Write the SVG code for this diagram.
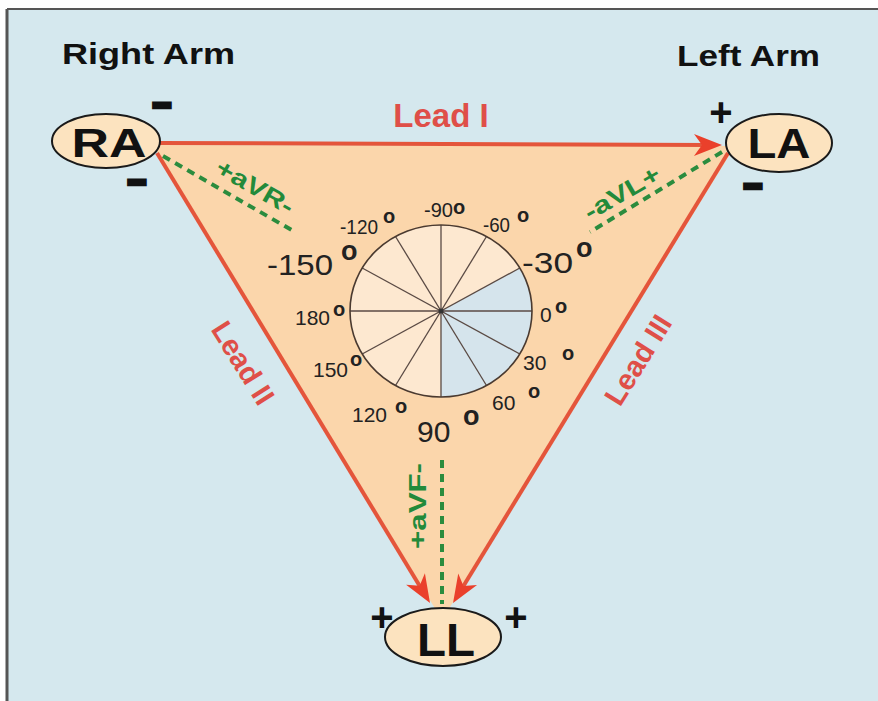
<svg xmlns="http://www.w3.org/2000/svg" width="878" height="701" viewBox="0 0 878 701">
<style>
.title{font-family:"Liberation Sans",Arial,sans-serif;font-weight:bold;font-size:30px;fill:#111}
.node{fill:#fce3bf;stroke:#1a1a1a;stroke-width:2}
.nlab{font-family:"Liberation Sans",Arial,sans-serif;font-weight:bold;fill:#111;text-anchor:middle}
.sign{font-family:"Liberation Sans",Arial,sans-serif;font-weight:bold;fill:#111;text-anchor:middle}
.minus{font-size:28px;stroke:#111;stroke-width:4.5}
.plus{font-size:40px}
.lead{stroke:#e4553b;stroke-width:4;fill:none}
.avx{stroke:#2b8c3e;stroke-width:4;fill:none;stroke-dasharray:8 6}
.llab{font-family:"Liberation Sans",Arial,sans-serif;font-weight:bold;fill:#df4f48;text-anchor:middle}
.glab{font-family:"Liberation Sans",Arial,sans-serif;font-weight:bold;fill:#238a3a;font-size:24px;text-anchor:middle}
.sm{font-family:"Liberation Sans",Arial,sans-serif;font-size:21px;fill:#222}
.bg{font-family:"Liberation Sans",Arial,sans-serif;font-size:30px;fill:#222}
.d1{font-family:"Liberation Sans",Arial,sans-serif;font-weight:bold;font-size:20px;fill:#222}
.d2{font-family:"Liberation Sans",Arial,sans-serif;font-weight:bold;font-size:27px;fill:#222}
.spoke{stroke:#5a4a44;stroke-width:1.3}
</style>
<defs>
<marker id="arr" markerUnits="userSpaceOnUse" viewBox="-30 -13 32 26" refX="-12" refY="0" markerWidth="32" markerHeight="26" orient="auto">
<path d="M0,0 L-28,-11 L-20,0 L-28,11 Z" fill="#ea402b"/>
</marker>
</defs>
<rect x="0" y="0" width="878" height="701" fill="#ffffff"/>
<rect x="7" y="9" width="871" height="692" fill="#d5e8ee"/>
<line x1="7" y1="9" x2="878" y2="9" stroke="#555" stroke-width="2"/>
<line x1="7" y1="9" x2="7" y2="701" stroke="#555" stroke-width="3"/>

<polygon points="153,145 735,146 442,620" fill="#fbd6ab"/>

<g id="axis-wheel">
<ellipse cx="441" cy="311" rx="91" ry="86" fill="#fde8d0"/>
<path d="M441,311 L519.8,268 A91,86 0 0,1 441,397 Z" fill="#d5e4ec"/>
<line class="spoke" x1="350" y1="311" x2="532" y2="311"/>
<line class="spoke" x1="519.8" y1="354" x2="362.2" y2="268"/>
<line class="spoke" x1="486.5" y1="385.5" x2="395.5" y2="236.5"/>
<line class="spoke" x1="441" y1="225" x2="441" y2="397"/>
<line class="spoke" x1="395.5" y1="385.5" x2="486.5" y2="236.5"/>
<line class="spoke" x1="362.2" y1="354" x2="519.8" y2="268"/>
<ellipse cx="441" cy="311" rx="91" ry="86" fill="none" stroke="#4a3a30" stroke-width="1.6"/>
<circle cx="441" cy="311" r="2.5" fill="#333"/>
<text class="sm" x="340" y="234" textLength="38" lengthAdjust="spacingAndGlyphs">-120</text><text class="d1" x="383" y="223">o</text>
<text class="sm" x="424" y="217" textLength="29" lengthAdjust="spacingAndGlyphs">-90</text><text class="d1" x="453" y="214">o</text>
<text class="sm" x="483" y="232" textLength="27" lengthAdjust="spacingAndGlyphs">-60</text><text class="d1" x="517" y="222">o</text>
<text class="bg" x="267" y="275" textLength="66" lengthAdjust="spacingAndGlyphs">-150</text><text class="d2" x="341" y="260">o</text>
<text class="bg" x="522" y="273" textLength="51" lengthAdjust="spacingAndGlyphs">-30</text><text class="d2" x="576" y="257">o</text>
<text class="sm" x="295" y="325">180</text><text class="d1" x="333" y="316">o</text>
<text class="sm" x="540" y="322">0</text><text class="d1" x="555" y="313">o</text>
<text class="sm" x="313" y="377">150</text><text class="d1" x="350" y="366">o</text>
<text class="sm" x="523" y="370">30</text><text class="d1" x="562" y="360">o</text>
<text class="sm" x="492" y="410">60</text><text class="d1" x="528" y="398">o</text>
<text class="sm" x="352" y="422">120</text><text class="d1" x="395" y="413">o</text>
<text class="bg" x="417" y="442">90</text><text class="d2" x="463" y="425">o</text>
</g>

<g id="connectors">
<line class="lead" x1="160" y1="143" x2="710" y2="145" marker-end="url(#arr)"/>
<line class="lead" x1="157" y1="153" x2="423.8" y2="592.7" marker-end="url(#arr)"/>
<line class="lead" x1="728" y1="153" x2="459.3" y2="592.8" marker-end="url(#arr)"/>
<line class="avx" x1="163" y1="156" x2="295" y2="232"/>
<line class="avx" x1="722" y1="152" x2="590" y2="232"/>
<line class="avx" x1="442" y1="460" x2="442" y2="604"/>
<text class="llab" x="441" y="127" font-size="33">Lead I</text>
<text class="llab" font-size="29" transform="translate(243,363) rotate(58)" y="10">Lead II</text>
<text class="llab" font-size="29" transform="translate(638,360) rotate(-58)" y="10">Lead III</text>
<text class="glab" transform="translate(255,187) rotate(30)" y="8" textLength="86" lengthAdjust="spacingAndGlyphs">+aVR-</text>
<text class="glab" transform="translate(622,193) rotate(-30)" y="8" textLength="84" lengthAdjust="spacingAndGlyphs">-aVL+</text>
<text class="glab" transform="translate(418,506) rotate(-90)" y="8" textLength="86" lengthAdjust="spacingAndGlyphs">+aVF-</text>
</g>

<g id="title-right-arm">
<text class="title" x="62" y="64" textLength="173" lengthAdjust="spacingAndGlyphs">Right Arm</text>
</g>
<g id="title-left-arm">
<text class="title" x="677" y="66" textLength="143" lengthAdjust="spacingAndGlyphs">Left Arm</text>
</g>

<g id="node-RA">
<ellipse class="node" cx="106" cy="141" rx="54" ry="27"/>
<text class="nlab" x="109" y="157" font-size="41" textLength="75" lengthAdjust="spacingAndGlyphs">RA</text>
<text class="sign minus" transform="translate(162,113) scale(1.7,1)">-</text>
<text class="sign minus" transform="translate(137,190) scale(1.7,1)">-</text>
</g>
<g id="node-LA">
<ellipse class="node" cx="779" cy="143" rx="53" ry="29"/>
<text class="nlab" x="779" y="158" font-size="42" textLength="63" lengthAdjust="spacingAndGlyphs">LA</text>
<text class="sign plus" x="721" y="126">+</text>
<text class="sign minus" transform="translate(753,194) scale(1.7,1)">-</text>
</g>
<g id="node-LL">
<ellipse class="node" cx="443" cy="637" rx="58" ry="29"/>
<text class="nlab" x="446" y="656" font-size="46" textLength="58" lengthAdjust="spacingAndGlyphs">LL</text>
<text class="sign plus" x="382" y="631">+</text>
<text class="sign plus" x="516" y="631">+</text>
</g>
</svg>
